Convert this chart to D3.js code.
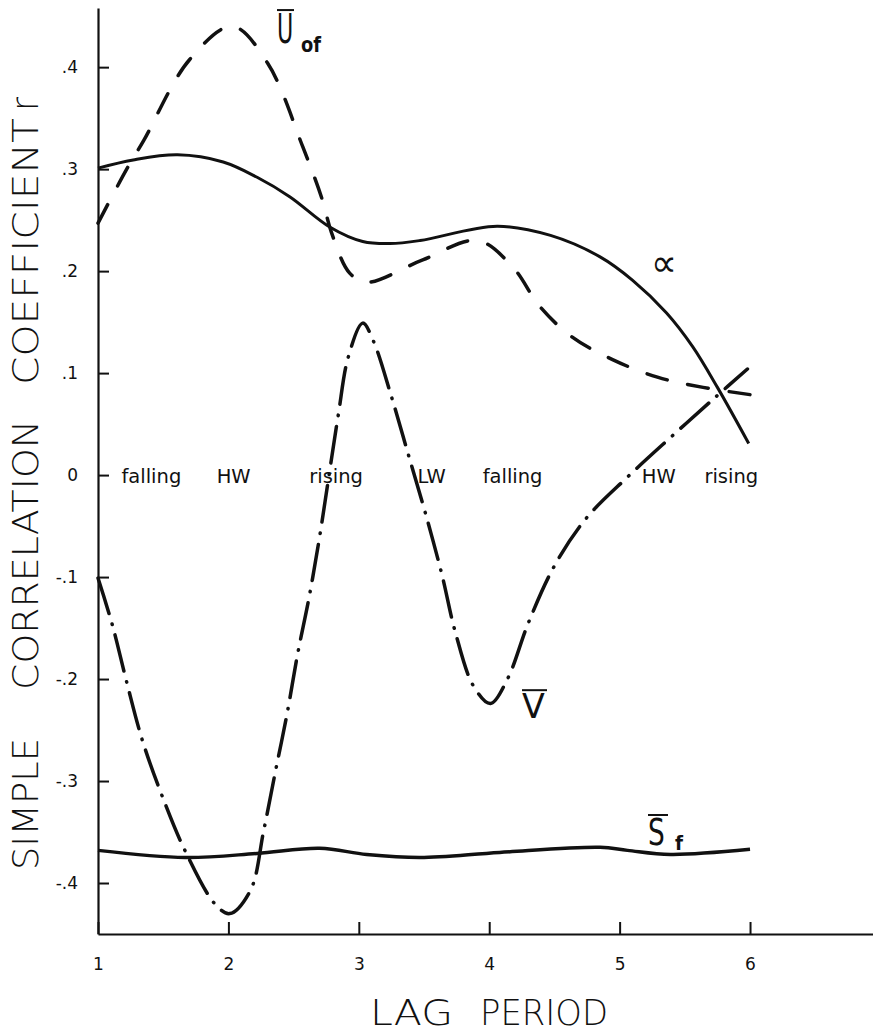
<!DOCTYPE html>
<html>
<head>
<meta charset="utf-8">
<script src="https://cdn.jsdelivr.net/npm/d3@7"></script>
<style>
  body { margin: 0; background: #fff; }
  text { font-family: "DejaVu Sans", sans-serif; fill: #111; }
  .curve { fill: none; stroke: #111; }
</style>
</head>
<body>
<svg id="chart" width="873" height="1034"></svg>
<script>
// lag period (x) and simple correlation coefficient r (y)
var alphaLag = [1, 1.27, 1.61, 1.96, 2.22, 2.47, 2.78, 3.03, 3.24, 3.47, 4.06, 4.47, 4.85, 5.1, 5.36, 5.56, 5.75, 5.99];
var alphaR   = [0.301, 0.309, 0.314, 0.307, 0.292, 0.273, 0.243, 0.229, 0.227, 0.230, 0.244, 0.235, 0.214, 0.191, 0.159, 0.126, 0.086, 0.031];

var uofLag = [1, 1.22, 1.35, 1.7, 2.03, 2.3, 2.57, 2.72, 2.79, 2.93, 3.06, 3.49, 3.91, 4.18, 4.39, 4.64, 4.95, 5.29, 5.64, 6.05];
var uofR   = [0.247, 0.3, 0.328, 0.407, 0.44, 0.404, 0.322, 0.27, 0.238, 0.198, 0.189, 0.211, 0.23, 0.204, 0.165, 0.135, 0.113, 0.096, 0.086, 0.078];

var vLag = [1, 1.11, 1.22, 1.34, 1.49, 1.67, 1.9, 2.01, 2.17, 2.27, 2.36, 2.45, 2.53, 2.62, 2.7, 2.84, 2.92, 3.03, 3.11, 3.25, 3.38, 3.51, 3.64, 3.74, 3.88, 4.01, 4.14, 4.3, 4.5, 4.74, 5.06, 5.4, 5.74, 5.98];
var vR   = [-0.101, -0.147, -0.203, -0.26, -0.314, -0.369, -0.421, -0.43, -0.407, -0.349, -0.291, -0.234, -0.176, -0.119, -0.06, 0.057, 0.116, 0.149, 0.132, 0.077, 0.02, -0.037, -0.099, -0.154, -0.207, -0.224, -0.2, -0.145, -0.089, -0.043, -0.002, 0.038, 0.077, 0.104];

var sfLag = [1, 1.67, 2.22, 2.7, 3.06, 3.47, 4.08, 4.85, 5.06, 5.39, 6.0];
var sfR   = [-0.368, -0.375, -0.371, -0.366, -0.372, -0.375, -0.37, -0.365, -0.368, -0.372, -0.367];

var xTicks = [1, 2, 3, 4, 5, 6];
var yTicks = [0.4, 0.3, 0.2, 0.1, 0, -0.1, -0.2, -0.3, -0.4];
var yTickLabels = [".4", ".3", ".2", ".1", "0", "-.1", "-.2", "-.3", "-.4"];

// tide phase notes along the zero line
var phaseLabels = ["falling", "HW", "rising", "LW", "falling", "HW", "rising"];
var phaseLag = [1.18, 1.91, 2.62, 3.45, 3.95, 5.17, 5.65];

var svg = d3.select("#chart");

var x = d3.scaleLinear().domain([1, 6.943]).range([98, 873]);
var y = d3.scaleLinear().domain([-0.45, 0.458]).range([934, 8]);

// axes
var yAxis = d3.axisLeft(y)
  .tickValues(yTicks)
  .tickFormat(function(d, i) { return yTickLabels[i]; })
  .tickSizeInner(-11).tickSizeOuter(0).tickPadding(20);

var gy = svg.append("g").attr("transform", "translate(98,0)").call(yAxis);
gy.select(".domain").attr("stroke-width", 2.2).attr("stroke", "#111");
gy.selectAll(".tick line").attr("stroke-width", 2).attr("stroke", "#111");
gy.selectAll(".tick text").attr("font-size", 17).attr("fill", "#111")
  .style("font-family", "DejaVu Sans");

var xAxis = d3.axisBottom(x)
  .tickValues(xTicks)
  .tickFormat(d3.format("d"))
  .tickSizeInner(-12).tickSizeOuter(0).tickPadding(24);

var gx = svg.append("g").attr("transform", "translate(0,934)").call(xAxis);
gx.select(".domain").attr("stroke-width", 2.2).attr("stroke", "#111");
gx.selectAll(".tick line").attr("stroke-width", 2).attr("stroke", "#111");
gx.selectAll(".tick text").attr("font-size", 17).attr("fill", "#111")
  .style("font-family", "DejaVu Sans");

// curves
var line = d3.line()
  .x(function(d) { return x(d[0]); })
  .y(function(d) { return y(d[1]); })
  .curve(d3.curveCatmullRom.alpha(0.5));

function pairs(a, b) { return a.map(function(v, i) { return [v, b[i]]; }); }

svg.append("path").attr("class", "curve")
  .attr("d", line(pairs(alphaLag, alphaR)))
  .attr("stroke-width", 3);

svg.append("path").attr("class", "curve")
  .attr("d", line(pairs(uofLag, uofR)))
  .attr("stroke-width", 3.5)
  .attr("stroke-linecap", "round")
  .attr("stroke-dasharray", "21,21");

svg.append("path").attr("class", "curve")
  .attr("d", line(pairs(vLag, vR)))
  .attr("stroke-width", 3.5)
  .attr("stroke-linecap", "round")
  .attr("stroke-dasharray", "37,11,0.5,11");

svg.append("path").attr("class", "curve")
  .attr("d", line(pairs(sfLag, sfR)))
  .attr("stroke-width", 3.5);

// phase notes
svg.selectAll(".phase")
  .data(phaseLabels)
  .enter().append("text")
  .attr("class", "phase")
  .attr("x", function(d, i) { return x(phaseLag[i]); })
  .attr("y", 483)
  .attr("font-size", 19.5)
  .text(function(d) { return d; });

// curve names: a letter squeezed horizontally, a bar over it, optional subscript
function barLabel(txt, xx, base, size, w, sub, subSize, subW, subDy) {
  var natural = size * 0.72;
  svg.append("text")
    .attr("transform", "translate(" + xx + "," + base + ") scale(" + (w / natural) + ",1)")
    .attr("font-size", size).text(txt);
  svg.append("line")
    .attr("x1", xx).attr("x2", xx + w + 1)
    .attr("y1", base - size * 0.73 - 3).attr("y2", base - size * 0.73 - 3)
    .attr("stroke", "#111").attr("stroke-width", 2);
  if (sub) {
    svg.append("text").attr("x", xx + w + 8).attr("y", base + subDy)
      .attr("font-size", subSize).attr("font-weight", "bold")
      .attr("textLength", subW).attr("lengthAdjust", "spacingAndGlyphs")
      .text(sub);
  }
}
barLabel("U", 277, 43, 41, 16, "of", 22, 20, 9);
barLabel("V", 522, 718, 34, 24, null);
barLabel("S", 648, 845, 37, 19, "f", 20, 8, 5);

svg.append("text").attr("x", 651).attr("y", 276)
  .attr("font-size", 38).attr("textLength", 26)
  .attr("lengthAdjust", "spacingAndGlyphs").text("\u221D");

// axis titles
var titleWords = [["SIMPLE", 870, 738, 35], ["CORRELATION", 690, 420, 35], ["COEFFICIENT", 385, 118, 35], ["r", 111, 97, 38]];
titleWords.forEach(function(w) {
  svg.append("text")
    .attr("transform", "translate(38," + w[1] + ") rotate(-90)")
    .attr("font-size", w[3]).attr("font-weight", 200)
    .attr("textLength", w[1] - w[2]).attr("lengthAdjust", "spacingAndGlyphs")
    .text(w[0]);
});

svg.append("text").attr("x", 370).attr("y", 1025)
  .attr("font-size", 35).attr("font-weight", 200)
  .attr("textLength", 83).attr("lengthAdjust", "spacingAndGlyphs").text("LAG");
svg.append("text").attr("x", 480).attr("y", 1025)
  .attr("font-size", 35).attr("font-weight", 200)
  .attr("textLength", 128).attr("lengthAdjust", "spacingAndGlyphs").text("PERIOD");
</script>
</body>
</html>
